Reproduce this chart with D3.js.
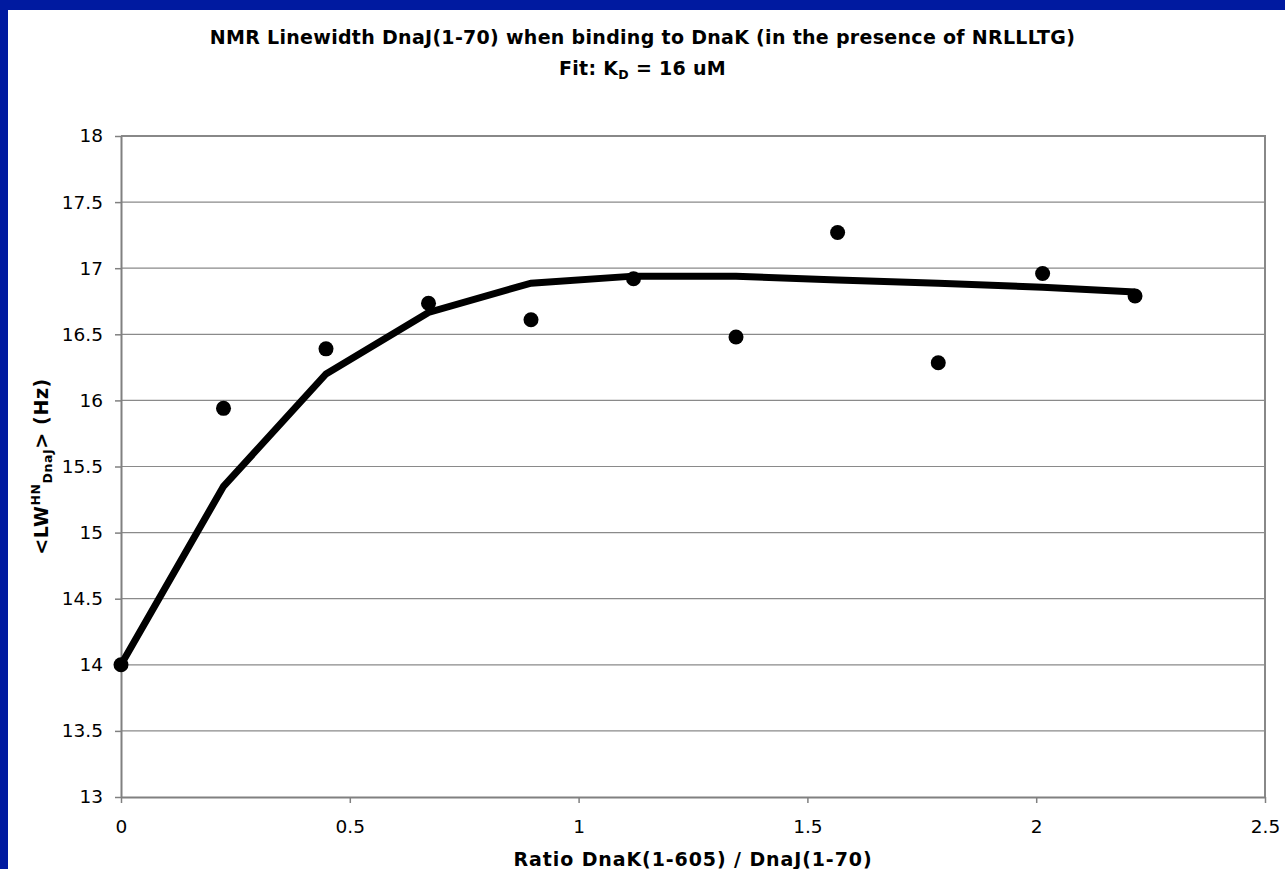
<!DOCTYPE html>
<html>
<head>
<meta charset="utf-8">
<script src="https://cdn.jsdelivr.net/npm/d3@7"></script>
<style>
  body { margin: 0; background: #fff; }
  svg { display: block; font-family: "DejaVu Sans", Verdana, sans-serif; }
</style>
</head>
<body>
<svg></svg>
<script>
// data
const ratio = [0, 0.224, 0.448, 0.672, 0.896, 1.12, 1.344, 1.566, 1.786, 2.014, 2.216];
const linewidth = [14.0, 15.94, 16.39, 16.735, 16.61, 16.92, 16.48, 17.27, 16.285, 16.96, 16.79];
const fitValues = [14.0, 15.35, 16.2, 16.665, 16.887, 16.94, 16.94, 16.91, 16.887, 16.856, 16.82];
const xTicks = [0, 0.5, 1, 1.5, 2, 2.5];
const yTicks = [13, 13.5, 14, 14.5, 15, 15.5, 16, 16.5, 17, 17.5, 18];

const width = 1285, height = 869;

const svg = d3.select("svg")
    .attr("width", width)
    .attr("height", height);

// blue frame on top and left
svg.append("rect").attr("x", 0).attr("y", 0).attr("width", width).attr("height", 10).attr("fill", "#001aa0");
svg.append("rect").attr("x", 0).attr("y", 0).attr("width", 8).attr("height", height).attr("fill", "#001aa0");

const margins = { top: 136, right: 20, bottom: 72, left: 121 };
const graphWidth = width - margins.left - margins.right;
const graphHeight = height - margins.top - margins.bottom;

const graphGroup = svg.append("g")
    .attr("transform", `translate(${margins.left}, ${margins.top})`);

const xScale = d3.scaleLinear().domain([0, 2.5]).range([0, graphWidth]);
const yScale = d3.scaleLinear().domain([13, 18]).range([graphHeight, 0]);

// gridlines
graphGroup.append("g")
    .selectAll("line")
    .data(yTicks.slice(1, -1))
    .enter()
    .append("line")
    .attr("x1", 0)
    .attr("x2", graphWidth)
    .attr("y1", d => yScale(d))
    .attr("y2", d => yScale(d))
    .attr("stroke", "#8a8a8a")
    .attr("stroke-width", 1.2);

// plot border top & right
graphGroup.append("path")
    .attr("d", `M0,${yScale(18)}H${xScale(2.5)}V${yScale(13)}`)
    .attr("fill", "none")
    .attr("stroke", "#888")
    .attr("stroke-width", 2);

const xAxis = d3.axisBottom(xScale)
    .tickValues(xTicks)
    .tickSizeInner(6)
    .tickSizeOuter(0)
    .tickPadding(17)
    .tickFormat(d => d);
const yAxis = d3.axisLeft(yScale)
    .tickValues(yTicks)
    .tickSizeInner(6)
    .tickSizeOuter(0)
    .tickPadding(12)
    .tickFormat(d => d);

const xAxisGroup = graphGroup.append("g")
    .attr("transform", `translate(0, ${graphHeight})`)
    .call(xAxis);
const yAxisGroup = graphGroup.append("g").call(yAxis);

[xAxisGroup, yAxisGroup].forEach(g => {
    g.select(".domain").attr("stroke", "#808080").attr("stroke-width", 2);
    g.selectAll(".tick line").attr("stroke", "#808080").attr("stroke-width", 1.5);
    g.selectAll("text")
        .attr("font-family", "DejaVu Sans, Verdana, sans-serif")
        .attr("font-size", 18.5)
        .attr("fill", "#000");
});

// fit line
const line = d3.line()
    .x((d, i) => xScale(ratio[i]))
    .y(d => yScale(d));

graphGroup.append("path")
    .datum(fitValues)
    .attr("d", line)
    .attr("fill", "none")
    .attr("stroke", "#000")
    .attr("stroke-width", 7);

// measured points
graphGroup.selectAll("circle")
    .data(linewidth)
    .enter()
    .append("circle")
    .attr("cx", (d, i) => xScale(ratio[i]))
    .attr("cy", d => yScale(d))
    .attr("r", 7.5)
    .attr("fill", "#000");

// titles
const title = svg.append("text")
    .attr("x", width / 2)
    .attr("y", 44)
    .attr("text-anchor", "middle")
    .attr("font-weight", "bold")
    .attr("font-size", 19)
    .attr("letter-spacing", 0.3)
    .text("NMR Linewidth DnaJ(1-70) when binding to DnaK (in the presence of NRLLLTG)");

const title2 = svg.append("text")
    .attr("x", width / 2)
    .attr("y", 75)
    .attr("text-anchor", "middle")
    .attr("font-weight", "bold")
    .attr("font-size", 19)
    .attr("letter-spacing", 0.3);
title2.append("tspan").text("Fit: K");
title2.append("tspan").attr("font-size", 12.5).attr("baseline-shift", "-4").text("D");
title2.append("tspan").text(" = 16 uM");

svg.append("text")
    .attr("x", margins.left + graphWidth / 2)
    .attr("y", 866)
    .attr("text-anchor", "middle")
    .attr("font-weight", "bold")
    .attr("font-size", 19)
    .attr("letter-spacing", 0.9)
    .text("Ratio DnaK(1-605) / DnaJ(1-70)");

const yTitle = svg.append("text")
    .attr("transform", `translate(48, ${margins.top + graphHeight / 2}) rotate(-90)`)
    .attr("text-anchor", "middle")
    .attr("font-weight", "bold")
    .attr("font-size", 19)
    .attr("letter-spacing", 0.6);
yTitle.append("tspan").text("<LW");
yTitle.append("tspan").attr("font-size", 12.5).attr("dy", -8).text("HN");
yTitle.append("tspan").attr("font-size", 12.5).attr("dy", 12).text("DnaJ");
yTitle.append("tspan").attr("dy", -4).text("> (Hz)");
</script>
</body>
</html>
